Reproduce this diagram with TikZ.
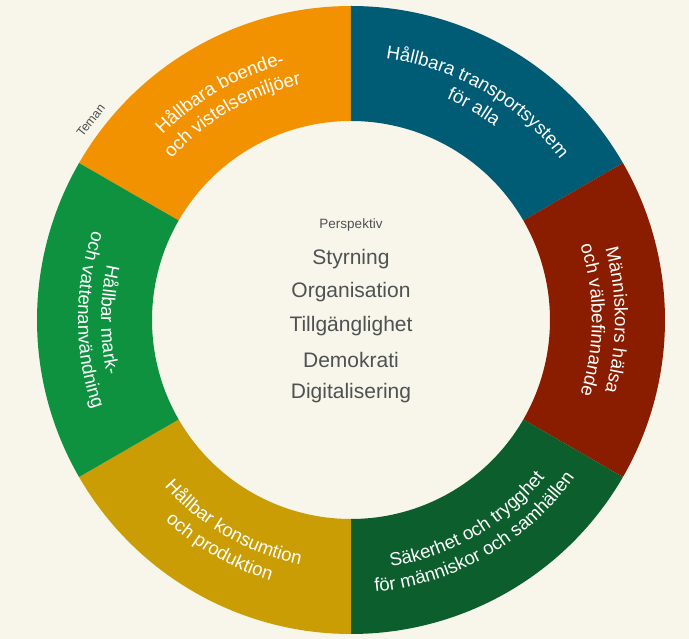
\documentclass[tikz,border=0pt]{standalone}
\usepackage{fontspec}
\setmainfont{Liberation Sans}
\usetikzlibrary{decorations.text}

\definecolor{bgcream}{HTML}{F8F5EA}
\definecolor{temaorange}{HTML}{F29200}
\definecolor{temablue}{HTML}{005B74}
\definecolor{temared}{HTML}{8A1C00}
\definecolor{temadarkgreen}{HTML}{0C5E2C}
\definecolor{temamustard}{HTML}{CA9D04}
\definecolor{temagreen}{HTML}{0E9240}
\definecolor{textgrey}{HTML}{4D5252}

\newcommand{\segfont}{\fontsize{18.6}{21}\selectfont}

\tikzset{
  segtext/.style={decorate, decoration={text along path, text align=center,
      text color=white, text={|\segfont|#1}}},
  persp/.style={text=textgrey, font=\fontsize{21}{24}\selectfont},
}

\begin{document}
\begin{tikzpicture}[x=1pt, y=1pt]

    %% Teman och perspektiv

    % Background
    \fill[bgcream] (-351,-319) rectangle (338,320);
    \useasboundingbox (-351,-319) rectangle (338,320);

    % Ring segments
    \fill[temaorange] (90:199) -- (90:314) arc[start angle=90, end angle=150, radius=314] -- (150:199) arc[start angle=150, end angle=90, radius=199] -- cycle;
    \fill[temablue] (30:199) -- (30:314) arc[start angle=30, end angle=90, radius=314] -- (90:199) arc[start angle=90, end angle=30, radius=199] -- cycle;
    \fill[temared] (-30:199) -- (-30:314) arc[start angle=-30, end angle=30, radius=314] -- (30:199) arc[start angle=30, end angle=-30, radius=199] -- cycle;
    \fill[temadarkgreen] (-90:199) -- (-90:314) arc[start angle=-90, end angle=-30, radius=314] -- (-30:199) arc[start angle=-30, end angle=-90, radius=199] -- cycle;
    \fill[temamustard] (-150:199) -- (-150:314) arc[start angle=-150, end angle=-90, radius=314] -- (-90:199) arc[start angle=-90, end angle=-150, radius=199] -- cycle;
    \fill[temagreen] (150:199) -- (150:314) arc[start angle=150, end angle=210, radius=314] -- (210:199) arc[start angle=210, end angle=150, radius=199] -- cycle;

    % Segment labels, upper half (clockwise)
    \path[segtext={Hållbara boende-}] (150:264) arc[start angle=150, end angle=90, radius=264];
    \path[segtext={och vistelsemiljöer}] (150:241) arc[start angle=150, end angle=90, radius=241];
    \path[segtext={Hållbara transportsystem}] (90:264) arc[start angle=90, end angle=30, radius=264];
    \path[segtext={för alla}] (90:241) arc[start angle=90, end angle=30, radius=241];
    \path[segtext={Människors hälsa}] (30:264) arc[start angle=30, end angle=-30, radius=264];
    \path[segtext={och välbefinnande}] (30:241) arc[start angle=30, end angle=-30, radius=241];

    % Segment labels, lower half (counterclockwise)
    \path[segtext={Säkerhet och trygghet}] (-90:250) arc[start angle=-90, end angle=-30, radius=250];
    \path[segtext={för människor och samhällen}] (-90:273) arc[start angle=-90, end angle=-30, radius=273];
    \path[segtext={Hållbar konsumtion}] (-150:250) arc[start angle=-150, end angle=-90, radius=250];
    \path[segtext={och produktion}] (-150:273) arc[start angle=-150, end angle=-90, radius=273];
    \path[segtext={Hållbar mark-}] (150:250) arc[start angle=150, end angle=210, radius=250];
    \path[segtext={och vattenanvändning}] (150:273) arc[start angle=150, end angle=210, radius=273];

    % Outer label
    \node[text=textgrey, font=\fontsize{12.5}{15}\selectfont, rotate=52] (teman) at (142.5:328) {Teman};

    % Perspectives
    \node[text=textgrey, font=\fontsize{13.5}{16}\selectfont] (perspektiv) at (0,95) {Perspektiv};
    \node[persp] (styrning) at (0,61) {Styrning};
    \node[persp] (organisation) at (0,28) {Organisation};
    \node[persp] (tillganglighet) at (0,-6) {Tillgänglighet};
    \node[persp] (demokrati) at (0,-40) {Demokrati};
    \node[persp] (digitalisering) at (0,-73) {Digitalisering};

\end{tikzpicture}
\end{document}
